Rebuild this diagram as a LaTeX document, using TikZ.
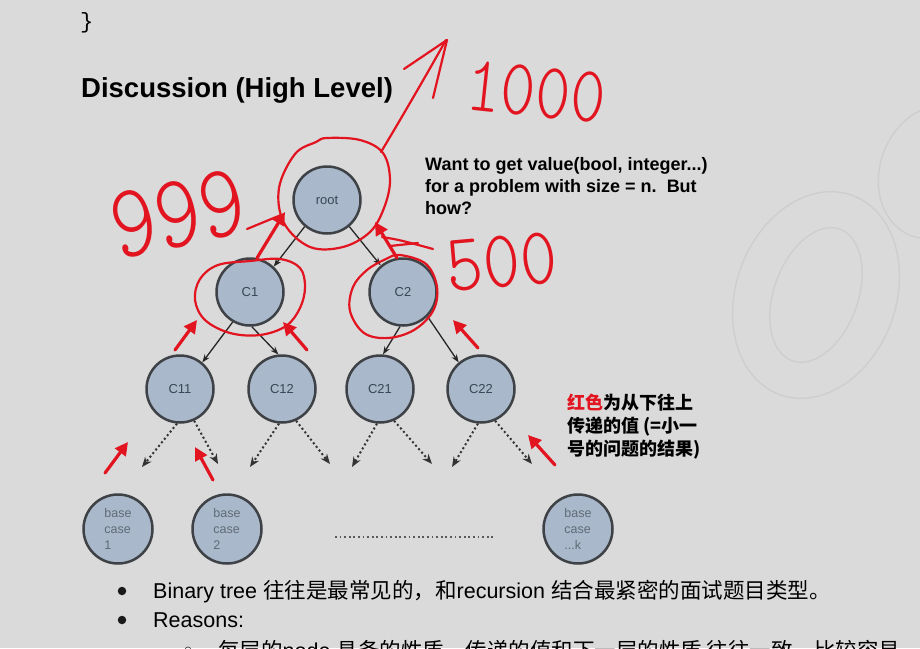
\documentclass[tikz,border=0pt]{standalone}
\usepackage{fontspec}
\setmainfont{Liberation Sans}
\setmonofont{Liberation Mono}
\newfontfamily\cjk{Noto Sans CJK SC}
\newfontfamily\handfont{lmmonolt10-regular.otf}
\usetikzlibrary{arrows.meta}
\definecolor{slidebg}{HTML}{DADADA}
\definecolor{nodefill}{HTML}{A9B8CA}
\definecolor{nodeedge}{HTML}{3E4246}
\definecolor{nodetext}{HTML}{3A4656}
\definecolor{pen}{RGB}{226,20,32}
\definecolor{wmark}{HTML}{CECECE}
\newcommand{\fs}[2]{\fontsize{#1}{#2}\selectfont}
\tikzset{
  treenode/.style={circle, draw=nodeedge, line width=2.5pt, fill=nodefill, minimum size=67pt, inner sep=0pt, font=\fs{13}{15}, text=nodetext},
  basenode/.style={treenode, minimum size=69pt, font=\fs{12.5}{16}, align=left, text=nodetext!80},
  edge/.style={line width=1.3pt, draw=black!85, -{Stealth[length=8pt,width=6pt]}},
  dotedge/.style={line width=2pt, draw=black!80, dash pattern=on 2pt off 2.6pt, -{Stealth[length=10pt,width=8pt]}},
  dotline/.style={line width=1.8pt, draw=black!65, dash pattern=on 1.8pt off 2.8pt},
  handline/.style={draw=pen, line width=2.2pt, line cap=round, line join=round},
  handarrow/.style={pen, line width=3.2pt, line cap=round, -{Triangle[length=13pt,width=13pt]}},
  handnum/.style={text=pen, font=\handfont\fs{80}{80}, inner sep=0pt, transform shape},
  slidetext/.style={inner sep=0pt, anchor=base west, font=\fs{21.5}{24}},
  bulletdot/.style={circle, fill=black!90, inner sep=0pt, minimum size=8.5pt}
}
\begin{document}
\begin{tikzpicture}[x=1pt, y=-1pt]
  \useasboundingbox (0,0) rectangle (920,648);
  \clip (0,0) rectangle (920,648);
  \fill[slidebg] (0,0) rectangle (920,648);

  % faint watermark digits
  \draw[wmark, line width=1.4pt, rotate around={-20:(816,295)}] (816,295) ellipse [x radius=80, y radius=106];
  \draw[wmark, line width=1.4pt, rotate around={-20:(816,295)}] (816,295) ellipse [x radius=42, y radius=70];
  \draw[wmark, line width=1.4pt, rotate around={-20:(935,172)}] (935,172) ellipse [x radius=55, y radius=68];

  % slide text
  \node[font=\ttfamily\fs{22}{22}, anchor=base west, inner sep=0pt] (brace) at (80,28) {\}};
  \node[font=\bfseries\fs{27.5}{30}, anchor=base west, inner sep=0pt] (title) at (81,97) {Discussion (High Level)};
  \node[font=\bfseries\fs{18}{22}, align=left, anchor=north west, inner sep=0pt] (want) at (425,157)
    {Want to get value(bool, integer...)\\for a problem with size = n.\ \ But\\how?};
  \node[font=\cjk\bfseries\fs{18}{23}, align=left, anchor=north west, inner sep=0pt] (note) at (567,394)
    {\textcolor{pen}{红色}为从下往上\\传递的值 (=小一\\号的问题的结果)};

  % tree
  \node[treenode] (root) at (327,200) {root};
  \node[treenode] (c1) at (250,292) {C1};
  \node[treenode] (c2) at (403,292) {C2};
  \node[treenode] (c11) at (180,389) {C11};
  \node[treenode] (c12) at (282,389) {C12};
  \node[treenode] (c21) at (380,389) {C21};
  \node[treenode] (c22) at (481,389) {C22};
  \node[basenode] (bc1) at (118,529) {base\\case\\1};
  \node[basenode] (bc2) at (227,529) {base\\case\\2};
  \node[basenode] (bck) at (578,529) {base\\case\\...k};

  \draw[edge] (root.-130) -- (c1.47);
  \draw[edge] (root.-50) -- (c2.130);
  \draw[edge] (c1.-120) -- (c11.50);
  \draw[edge] (c1.-87) -- (c12.96);
  \draw[edge] (c2.-95) -- (c21.85);
  \draw[edge] (c2.-45) -- (c22.130);

  \foreach \n/\lx/\rx in {c11/142/218, c12/250/330, c21/352/432, c22/452/532} {
    \coordinate (\n l) at (\lx,467);
    \coordinate (\n r) at (\rx,464);
    \draw[dotedge] (\n.-95) -- (\n l);
    \draw[dotedge] (\n.-66) -- (\n r);
  }
  \coordinate (gapl) at (335,537);
  \coordinate (gapr) at (495,537);
  \draw[dotline] (gapl) -- (gapr);

  % bullets
  \node[bulletdot] (dot1) at (122,591) {};
  \node[slidetext] (line1) at (153,598) {Binary tree {\cjk 往往是最常见的，和}recursion {\cjk 结合最紧密的面试题目类型。}};
  \node[bulletdot] (dot2) at (122,620) {};
  \node[slidetext] (line2) at (153,627) {Reasons:};
  \node[font=\fs{14}{14}, inner sep=0pt] (dot3) at (188,651) {○};
  \node[slidetext] (line3) at (218,658) {{\cjk 每层的}node {\cjk 具备的性质，传递的值和下一层的性质 往往一致，比较容易}};

  % red pen notes
  \draw[handline] plot[smooth cycle, tension=0.6] coordinates {(327,138) (360,140) (383,153) (390,180) (384,208) (370,232) (343,247) (310,247) (284,223) (279,188) (295,154) (316,142)};
  \draw[handline] (381,152) .. controls (405,112) and (428,72) .. (446,40);
  \draw[handline] (404,69) -- (447,40) -- (433,98);
  \draw[handline] plot[smooth cycle, tension=0.6] coordinates {(250,261) (280,259) (300,268) (305,287) (300,308) (286,326) (260,335) (230,333) (205,320) (195,300) (200,279) (218,265)};
  \draw[handline] plot[smooth cycle, tension=0.6] coordinates {(400,255) (426,264) (437,287) (433,311) (414,330) (388,338) (364,333) (350,311) (353,287) (367,270) (386,259)};

  \draw[handarrow] (257,258) -- (285,212);
  \draw[handline] (247,229) -- (281,215);
  \draw[handarrow] (397,258) -- (375,222);
  \draw[handline] (382,237) .. controls (400,240) .. (433,249);
  \draw[handline] (390,246) -- (418,243);

  \draw[handarrow] (175,350) -- (197,320);
  \draw[handarrow] (307,350) -- (283,322);
  \draw[handarrow] (478,348) -- (453,320);
  \draw[handarrow] (105,473) -- (128,442);
  \draw[handarrow] (213,480) -- (195,447);
  \draw[handarrow] (555,465) -- (528,435);

  \node[handnum, rotate=-6, xscale=0.83] (n1000) at (536,92) {1000};
  \node[handnum, rotate=12, xscale=0.82, font=\handfont\fs{105}{105}] (n999) at (178,214) {999};
  \node[handnum, rotate=5, xscale=0.86, font=\handfont\fs{82}{82}] (n500) at (502,262) {500};
\end{tikzpicture}
\end{document}
